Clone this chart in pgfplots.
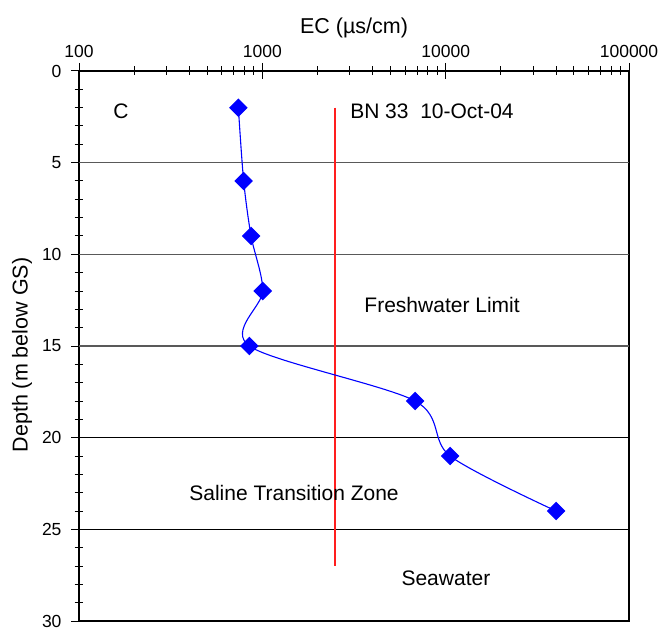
\documentclass[border=0pt]{standalone}
\usepackage{fontspec}
\setmainfont{Liberation Sans}
\usepackage{pgfplots}
\pgfplotsset{compat=1.18}
\definecolor{ecblue}{RGB}{0,0,255}
\definecolor{limred}{RGB}{255,30,30}

\begin{document}
\begin{tikzpicture}
\begin{axis}[
  scale only axis, width=550pt, height=550pt,
  xmode=log, log basis x=10,
  xmin=100, xmax=100000, ymin=0, ymax=30,
  y dir=reverse,
  xtick={100,1000,10000,100000}, xticklabels={100,1000,10000,100000},
  minor xtick={200,300,400,500,600,700,800,900,2000,3000,4000,5000,6000,7000,8000,9000,20000,30000,40000,50000,60000,70000,80000,90000},
  ytick={0,5,...,30}, minor y tick num=4,
  xtick pos=right, xticklabel pos=right,
  ytick pos=left, yticklabel pos=left,
  tick align=center,
  major tick length=16pt, minor tick length=9pt,
  tick style={black, line width=1pt},
  axis line style={black, line width=1.3pt},
  /pgf/number format/assume math mode=true,
  tick label style={font=\fontsize{17.5}{20}\selectfont},
  xticklabel style={yshift=2pt},
  yticklabel style={xshift=-6pt},
  label style={font=\fontsize{21.5}{25}\selectfont},
  xlabel={EC (µs/cm)},
  ylabel={Depth (m below GS)},
  ylabel style={yshift=3pt, xshift=-9pt},
]
% horizontal depth lines
\addplot[black!65, line width=1.1pt, mark=none] coordinates {(100,5) (100000,5)};
\addplot[black!65, line width=1.1pt, mark=none] coordinates {(100,10) (100000,10)};
\addplot[black!65, line width=1.1pt, mark=none] coordinates {(100,15) (100000,15)};
\addplot[black, line width=1.1pt, mark=none] coordinates {(100,20) (100000,20)};
\addplot[black, line width=1.1pt, mark=none] coordinates {(100,25) (100000,25)};
% freshwater limit
\addplot[draw=limred, line width=1.8pt, mark=none] coordinates {(2500,2) (2500,27)};
% EC profile
\addplot[ecblue, line width=1.1pt, smooth, tension=0.5,
  mark=square*, mark size=6pt, mark options={rotate=45, fill=ecblue, draw=ecblue}]
  coordinates {
  (740,2) (791,6) (868,9) (1005,12) (849,15) (6808,18) (10570,21) (40000,24)
};
\node[font=\fontsize{21}{25}\selectfont] at (axis cs:169.5,2.17) {C};
\node[font=\fontsize{21}{25}\selectfont, anchor=west] at (axis cs:2886,2.17) {BN 33\ \ 10-Oct-04};
\node[font=\fontsize{21}{25}\selectfont] at (axis cs:9560,12.77) {Freshwater Limit};
\node[font=\fontsize{21}{25}\selectfont] at (axis cs:1489,23.0) {Saline Transition Zone};
\node[font=\fontsize{21}{25}\selectfont] at (axis cs:10030,27.68) {Seawater};
\end{axis}
\pgfresetboundingbox
\useasboundingbox ([xshift=-79pt,yshift=-12pt]current axis.south west) rectangle ([xshift=31pt,yshift=71pt]current axis.north east);
\end{tikzpicture}
\end{document}
